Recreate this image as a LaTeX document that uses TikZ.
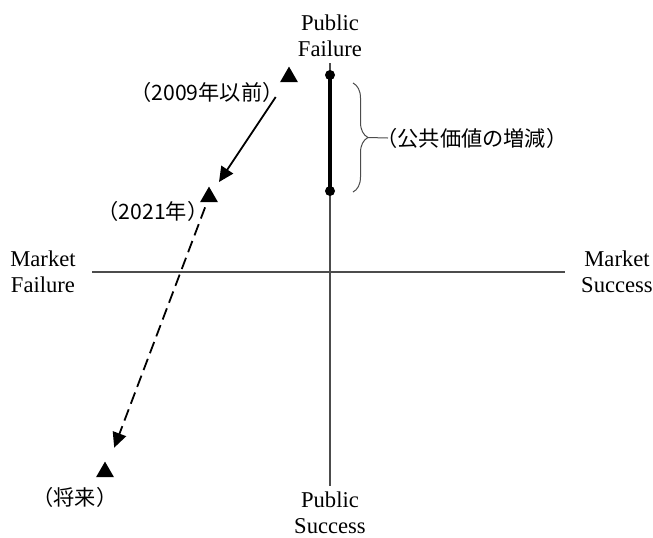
\documentclass[tikz,border=0pt]{standalone}
\usepackage{fontspec}
\setmainfont{Liberation Serif}
\newfontfamily\jpfont{Noto Sans CJK JP}
\usetikzlibrary{arrows.meta,shapes.geometric,decorations.pathreplacing}

\tikzset{
  axislabel/.style={align=center,font=\fontsize{11.3}{12.8}\selectfont,inner xsep=8pt,inner ysep=3pt},
  jplabel/.style={font=\jpfont\fontsize{10.6}{12}\selectfont,inner sep=0pt},
  marker/.style={regular polygon,regular polygon sides=3,fill=black,inner sep=0pt,minimum size=10.4pt},
  enddot/.style={circle,fill=black,inner sep=0pt,minimum size=5pt},
  axisline/.style={draw=black!70,line width=0.6pt},
  move/.style={line width=0.9pt,-{Triangle[length=7.5pt,width=7pt]}},
}

\begin{document}
\begin{tikzpicture}[x=0.5pt,y=-0.5pt]
  \useasboundingbox (0,0) rectangle (653,537);

  \node[axislabel] (pubfail) at (330,36) {Public\\Failure};
  \node[axislabel] (pubsucc) at (330,513) {Public\\Success};
  \node[axislabel] (mktfail) at (43,272) {Market\\Failure};
  \node[axislabel] (mktsucc) at (617,272) {Market\\Success};

  \draw[axisline] (pubfail) -- (pubsucc);
  \draw[axisline] (mktfail) -- (mktsucc);

  \node[enddot] (high) at (330,75) {};
  \node[enddot] (low) at (330,191) {};
  \draw[line width=1.6pt] (high.center) -- (low.center);

  \draw[black!70,line width=0.5pt,decorate,decoration={brace,amplitude=7.5pt}]
    (353,83) -- (353,192);
  \coordinate (bracetip) at (368,137.5);
  \node[jplabel,anchor=west] (value) at (376,138) {（公共価値の増減）};
  \draw[black!70,line width=0.5pt] (bracetip) -- ([xshift=6pt]value.west);

  \node[marker] (t2009) at (289,77) {};
  \node[marker] (t2021) at (209,197) {};
  \node[marker] (tfuture) at (105,472) {};

  \node[jplabel] (l2009) at (207,92) {（2009年以前）};
  \node[jplabel] (l2021) at (153,211) {（2021年）};
  \node[jplabel] (lfuture) at (75,497) {（将来）};

  \draw[move,shorten <=12pt,shorten >=9pt] (t2009.center) -- (t2021.center);
  \draw[move,dash pattern=on 6pt off 3pt,shorten <=5.5pt,shorten >=13pt]
    (t2021.center) -- (tfuture.center);
\end{tikzpicture}
\end{document}
